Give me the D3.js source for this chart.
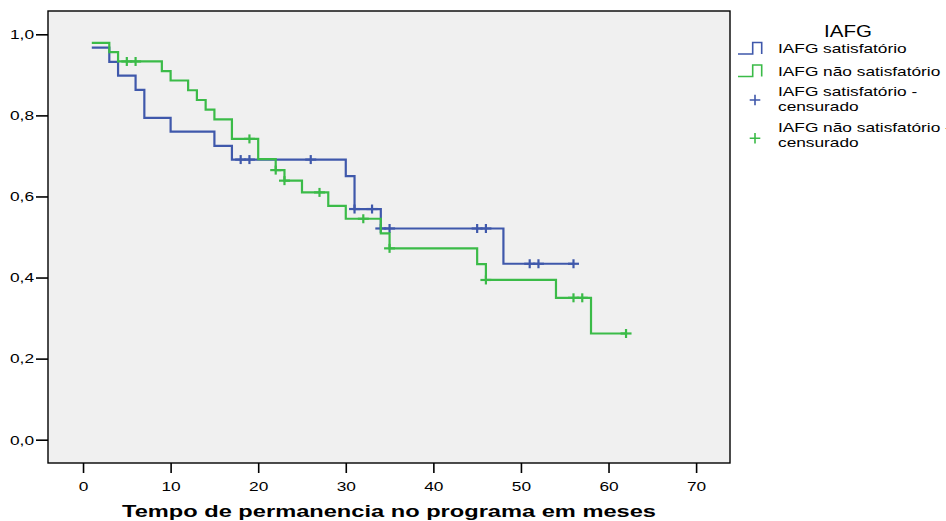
<!DOCTYPE html>
<html>
<head>
<meta charset="utf-8">
<script src="https://cdn.jsdelivr.net/npm/d3@7"></script>
<style>
	body { margin: 0; background: #fff; }
	svg text { font-family: "Liberation Sans", Arial, sans-serif; fill: #000; }
</style>
</head>
<body>
<div id="chart"></div>
<script>

//Kaplan-Meier data (time in months, survival at each step).
var satTimes      = [1, 3, 4, 6, 7, 10, 15, 17, 30, 31, 34, 48];
var satSurv       = [0.967, 0.932, 0.898, 0.863, 0.794, 0.760, 0.725, 0.691, 0.650, 0.569, 0.521, 0.434];
var satEnd        = 56;
var satCensored   = [18, 19, 26, 31, 33, 34, 35, 45, 46, 51, 52, 56];

var naoTimes      = [1, 3, 4, 9, 10, 12, 13, 14, 15, 17, 20, 22, 23, 25, 28, 30, 34, 35, 45, 46, 54, 58];
var naoSurv       = [0.979, 0.956, 0.933, 0.909, 0.886, 0.862, 0.838, 0.814, 0.790, 0.742, 0.692, 0.665,
                     0.639, 0.610, 0.577, 0.545, 0.509, 0.472, 0.433, 0.394, 0.350, 0.262];
var naoEnd        = 62;
var naoCensored   = [5, 6, 19, 22, 23, 27, 32, 35, 46, 56, 57, 62];

var xTicks        = [0, 10, 20, 30, 40, 50, 60, 70];
var yTicks        = [0, 0.2, 0.4, 0.6, 0.8, 1.0];
var legendLabels  = ['IAFG satisfatório', 'IAFG não satisfatório',
                     'IAFG satisfatório -|censurado', 'IAFG não satisfatório -|censurado'];

var blue  = '#3f58ab';
var green = '#3bbb48';

var width  = 946;
var height = 521;
var plot   = {left: 48, top: 11, right: 730, bottom: 463};
var stretch = 1.28;   //the exported picture has its text drawn wider than normal

var svg = d3.select('#chart').append('svg').attr('width', width).attr('height', height);

var x = d3.scaleLinear().domain([-4, 73.87]).range([plot.left, plot.right]);
var y = d3.scaleLinear().domain([-0.0575, 1.0575]).range([plot.bottom, plot.top]);

//Plot background
svg.append('rect')
	.attr('x', plot.left).attr('y', plot.top)
	.attr('width', plot.right - plot.left).attr('height', plot.bottom - plot.top)
	.attr('fill', '#f0f0f0');

//Axes
var yAxis = d3.axisLeft(y).tickValues(yTicks).tickSize(12).tickPadding(2)
	.tickFormat(function(d){ return d3.format('.1f')(d).replace('.', ','); });
var xAxis = d3.axisBottom(x).tickValues(xTicks).tickSize(10).tickPadding(8);

var gy = svg.append('g').attr('transform', 'translate(' + plot.left + ',0)').call(yAxis);
var gx = svg.append('g').attr('transform', 'translate(0,' + plot.bottom + ')').call(xAxis);
[gx, gy].forEach(function(g){
	g.select('.domain').remove();
	g.selectAll('line').attr('stroke', '#000').attr('stroke-width', 1.6);
	g.selectAll('text').style('font-size', '13.5px').attr('fill', '#000');
});

//Frame
svg.append('rect')
	.attr('x', plot.left).attr('y', plot.top)
	.attr('width', plot.right - plot.left).attr('height', plot.bottom - plot.top)
	.attr('fill', 'none').attr('stroke', '#000').attr('stroke-width', 1.4);

//Build step points from the times/values, ending at the last follow-up time.
function stepPoints(times, surv, end){
	var pts = times.map(function(t, i){ return [t, surv[i]]; });
	pts.push([end, surv[surv.length - 1]]);
	return pts;
}

//Survival at time t (value after any drop at t).
function survAt(times, surv, t){
	var s = surv[0];
	for (var i = 0; i < times.length; i++) {
		if (times[i] <= t) s = surv[i];
	}
	return s;
}

var line = d3.line()
	.x(function(d){ return x(d[0]); })
	.y(function(d){ return y(d[1]); })
	.curve(d3.curveStepAfter);

function drawSeries(times, surv, end, censored, color){
	svg.append('path')
		.datum(stepPoints(times, surv, end))
		.attr('d', line)
		.attr('fill', 'none')
		.attr('stroke', color)
		.attr('stroke-width', 2.2);

	var marks = svg.append('g').selectAll('g')
		.data(censored)
		.enter().append('g')
		.attr('transform', function(t){
			return 'translate(' + x(t) + ',' + y(survAt(times, surv, t)) + ')';
		});
	marks.append('line').attr('x1', -5.5).attr('x2', 5.5).attr('y1', 0).attr('y2', 0)
		.attr('stroke', color).attr('stroke-width', 2.2);
	marks.append('line').attr('x1', 0).attr('x2', 0).attr('y1', -4.5).attr('y2', 4.5)
		.attr('stroke', color).attr('stroke-width', 2.2);
}

drawSeries(satTimes, satSurv, satEnd, satCensored, blue);
drawSeries(naoTimes, naoSurv, naoEnd, naoCensored, green);

//X axis title
svg.append('text')
	.attr('class', 'title')
	.attr('x', (plot.left + plot.right) / 2).attr('y', 517)
	.attr('text-anchor', 'middle')
	.style('font-size', '17px').style('font-weight', 'bold')
	.text('Tempo de permanencia no programa em meses');

//Legend
var legend = svg.append('g');
legend.append('text').attr('x', 848).attr('y', 36.5).attr('text-anchor', 'middle')
	.style('font-size', '16px').text('IAFG');

var legendColors = [blue, green, blue, green];
var legendBase   = [53, 75.5, 95.5, 132];
var legendMarkY  = [0, 0, 100, 138.3];

legendLabels.forEach(function(label, i){
	var c = legendColors[i];
	if (i < 2) {
		//step symbol
		var low = legendBase[i] + 1, top = legendBase[i] - 10.5;
		legend.append('path')
			.attr('d', 'M738,' + low + 'H752.7V' + top + 'H761.7V' + low)
			.attr('fill', 'none').attr('stroke', c).attr('stroke-width', 1.6);
	} else {
		var my = legendMarkY[i];
		legend.append('path')
			.attr('d', 'M749.7,' + my + 'H760.3M755,' + (my - 5.3) + 'V' + (my + 5.3))
			.attr('fill', 'none').attr('stroke', c).attr('stroke-width', 1.6);
	}
	var parts = label.split('|');
	parts.forEach(function(p, j){
		legend.append('text').attr('x', 778).attr('y', legendBase[i] + j * 15)
			.style('font-size', '13.5px').text(p);
	});
});

//Widen every text the way the reference shows it.
svg.selectAll('text').each(function(){
	var len = this.getComputedTextLength();
	var f = d3.select(this).classed('title') ? 1.39 : stretch;
	d3.select(this).attr('textLength', len * f).attr('lengthAdjust', 'spacingAndGlyphs');
});

</script>
</body>
</html>
